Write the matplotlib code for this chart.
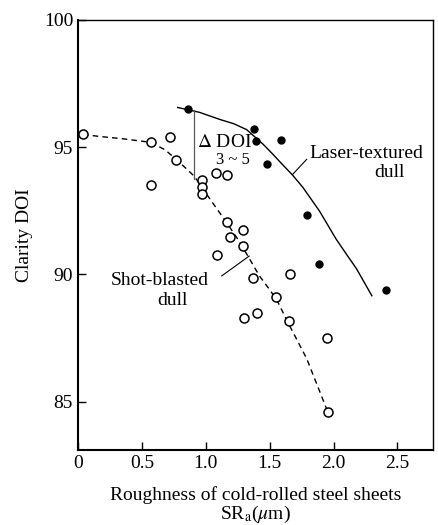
import numpy as np
import matplotlib
matplotlib.use("Agg")
import matplotlib.pyplot as plt

plt.rcParams['font.family'] = ['Liberation Serif', 'DejaVu Serif']
plt.rcParams['mathtext.fontset'] = 'stix'

# ==== data ========================================================
# shot-blasted dull (open circles)
shot_x = [0.04, 0.57, 0.57, 0.72, 0.77, 0.97, 0.97, 0.97, 1.08, 1.17,
          1.17, 1.19, 1.29, 1.29, 1.09, 1.37, 1.55, 1.65, 1.66, 1.30,
          1.40, 1.95, 1.96]
shot_y = [95.5, 95.2, 93.5, 95.4, 94.5, 93.7, 93.45, 93.15, 94.0, 93.9,
          92.05, 91.45, 91.75, 91.1, 90.75, 89.85, 89.1, 88.15, 90.0, 88.3,
          88.5, 87.5, 84.6]

# laser-textured dull (filled dots)
laser_x = [0.86, 1.38, 1.39, 1.59, 1.48, 1.79, 1.89, 2.41]
laser_y = [96.5, 95.7, 95.25, 95.3, 94.35, 92.35, 90.4, 89.4]

# trend lines as drawn
shot_fit_x = [0.04, 0.17, 0.35, 0.57, 0.68, 0.77, 0.91, 1.05, 1.16, 1.25,
              1.33, 1.42, 1.50, 1.56, 1.64, 1.79, 1.95]
shot_fit_y = [95.5, 95.42, 95.33, 95.19, 94.9, 94.52, 93.86, 92.84, 92.06,
              91.39, 90.72, 89.94, 89.4, 88.96, 88.14, 86.69, 84.66]
laser_fit_x = [0.78, 0.95, 1.11, 1.22, 1.32, 1.45, 1.52, 1.60, 1.68, 1.76,
               1.89, 2.02, 2.10, 2.18, 2.30]
laser_fit_y = [96.56, 96.37, 96.09, 95.92, 95.69, 95.11, 94.75, 94.32, 93.9,
               93.42, 92.49, 91.39, 90.8, 90.22, 89.16]

xticks = [0, 0.5, 1.0, 1.5, 2.0, 2.5]
xticklabels = ['0', '0.5', '1.0', '1.5', '2.0', '2.5']
yticks = [85, 90, 95, 100]

# ==== plotting =====================================================
fig = plt.figure(figsize=(4.38, 5.25), dpi=100)
ax = fig.add_axes([0.178, 0.143, 0.811, 0.819])

ax.plot(shot_fit_x, shot_fit_y, color='black', lw=1.0, ls=(0, (4, 3)))
ax.plot(laser_fit_x, laser_fit_y, color='black', lw=1.0)
ax.plot(shot_x, shot_y, 'o', mfc='white', mec='black', mew=1.1, ms=6.5, ls='none')
ax.plot(laser_x, laser_y, 'o', color='black', ms=5, ls='none')

# delta DOI bracket
ax.plot([0.91, 0.91], [96.45, 93.75], color='0.35', lw=0.9)
ax.text(0.93, 95.2, r'$\Delta$ DOI', fontsize=14, va='center', ha='left')
ax.text(1.21, 94.5, '3 ~ 5', fontsize=12, va='center', ha='center')

# labels with leaders
ax.plot([1.68, 1.79], [93.93, 94.52], color='black', lw=0.8)
ax.text(1.81, 94.76, 'Laser-textured', fontsize=14, va='center', ha='left')
ax.text(2.56, 94.0, 'dull', fontsize=14, va='center', ha='right')

ax.plot([1.125, 1.34], [89.94, 90.72], color='black', lw=0.8)
ax.text(0.64, 89.75, 'Shot-blasted', fontsize=14, va='center', ha='center')
ax.text(0.74, 88.96, 'dull', fontsize=14, va='center', ha='center')

ax.set_xlim(0, 2.78)
ax.set_ylim(83.1, 100)
ax.set_xticks(xticks)
ax.set_xticklabels(xticklabels)
ax.set_yticks(yticks)
ax.tick_params(direction='in', length=6, width=1, labelsize=14)
for s in ax.spines.values():
    s.set_linewidth(1.0)
ax.spines['left'].set_linewidth(1.5)
ax.spines['bottom'].set_linewidth(1.5)

ax.set_ylabel('Clarity DOI', fontsize=14, labelpad=8)
ax.set_xlabel('Roughness of cold-rolled steel sheets\n'
              r'SR$_\mathrm{a}$($\mu$m)', fontsize=14, labelpad=10,
              linespacing=1.0)

fig.savefig('out.png', dpi=100)
